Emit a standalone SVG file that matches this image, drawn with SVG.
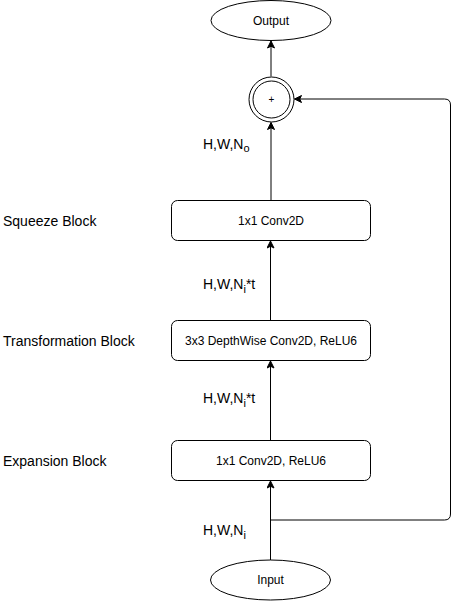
<svg xmlns="http://www.w3.org/2000/svg" width="459" height="601" viewBox="0 0 459 601">
  <style>
    .shape { fill: #ffffff; stroke: #000000; stroke-width: 1; }
    .edge { fill: none; stroke: #000000; stroke-width: 1; }
    .t12 { font-family: "Liberation Sans", Arial, sans-serif; font-size: 12px; fill: #000000; text-anchor: middle; }
    .t14 { font-family: "Liberation Sans", Arial, sans-serif; font-size: 14px; fill: #000000; }
  </style>
  <defs>
    <marker id="arr" viewBox="-8 -4 9 8" refX="0" refY="0" markerWidth="9" markerHeight="8" markerUnits="userSpaceOnUse" orient="auto">
      <path d="M0,0 L-7,-3.5 L-5.25,0 L-7,3.5 Z" fill="#000000" stroke="#000000" stroke-width="1"/>
    </marker>
  </defs>
  <rect width="459" height="601" fill="#ffffff"/>

  <g id="connectors">
    <path class="edge" d="M270.5,560 V481" marker-end="url(#arr)"/>
    <path class="edge" d="M270.5,440 V361" marker-end="url(#arr)"/>
    <path class="edge" d="M270.5,320 V241" marker-end="url(#arr)"/>
    <path class="edge" d="M271,200 V122.5" marker-end="url(#arr)"/>
    <path class="edge" d="M271,76.5 V41" marker-end="url(#arr)"/>
    <path class="edge" d="M270.5,520 H444.5 Q450.5,520 450.5,514 V105 Q450.5,99 444.5,99 H294.5" marker-end="url(#arr)"/>
  </g>

  <g id="output">
    <ellipse class="shape" cx="271" cy="20.5" rx="60" ry="20"/>
    <text class="t12" x="271" y="24.8">Output</text>
  </g>

  <g id="add">
    <circle class="shape" cx="271.5" cy="99.5" r="22.5"/>
    <circle class="shape" cx="271.5" cy="99.5" r="18.5"/>
    <text class="t12" x="271.5" y="103" style="font-size:10px">+</text>
  </g>

  <g id="squeeze">
    <rect class="shape" x="171.5" y="200.5" width="199" height="40" rx="6" ry="6"/>
    <text class="t12" x="271" y="224.8">1x1 Conv2D</text>
  </g>

  <g id="transformation">
    <rect class="shape" x="171.5" y="320.5" width="199" height="40" rx="6" ry="6"/>
    <text class="t12" x="271" y="344.8">3x3 DepthWise Conv2D, ReLU6</text>
  </g>

  <g id="expansion">
    <rect class="shape" x="171.5" y="440.5" width="199" height="40" rx="6" ry="6"/>
    <text class="t12" x="271" y="464.8">1x1 Conv2D, ReLU6</text>
  </g>

  <g id="input">
    <ellipse class="shape" cx="270.5" cy="580" rx="60" ry="20"/>
    <text class="t12" x="270.5" y="584.3">Input</text>
  </g>

  <g id="labels">
    <text class="t14" x="3" y="225.5">Squeeze Block</text>
    <text class="t14" x="3" y="346">Transformation Block</text>
    <text class="t14" x="3" y="466">Expansion Block</text>
    <text class="t14" x="203" y="149">H,W,N<tspan dy="3" style="font-size:11px">o</tspan></text>
    <text class="t14" x="203" y="289">H,W,N<tspan dy="3.5" style="font-size:11px">i</tspan><tspan dy="-3.5">*t</tspan></text>
    <text class="t14" x="203" y="403">H,W,N<tspan dy="3.5" style="font-size:11px">i</tspan><tspan dy="-3.5">*t</tspan></text>
    <text class="t14" x="203" y="535">H,W,N<tspan dy="3.5" style="font-size:11px">i</tspan></text>
  </g>
</svg>
